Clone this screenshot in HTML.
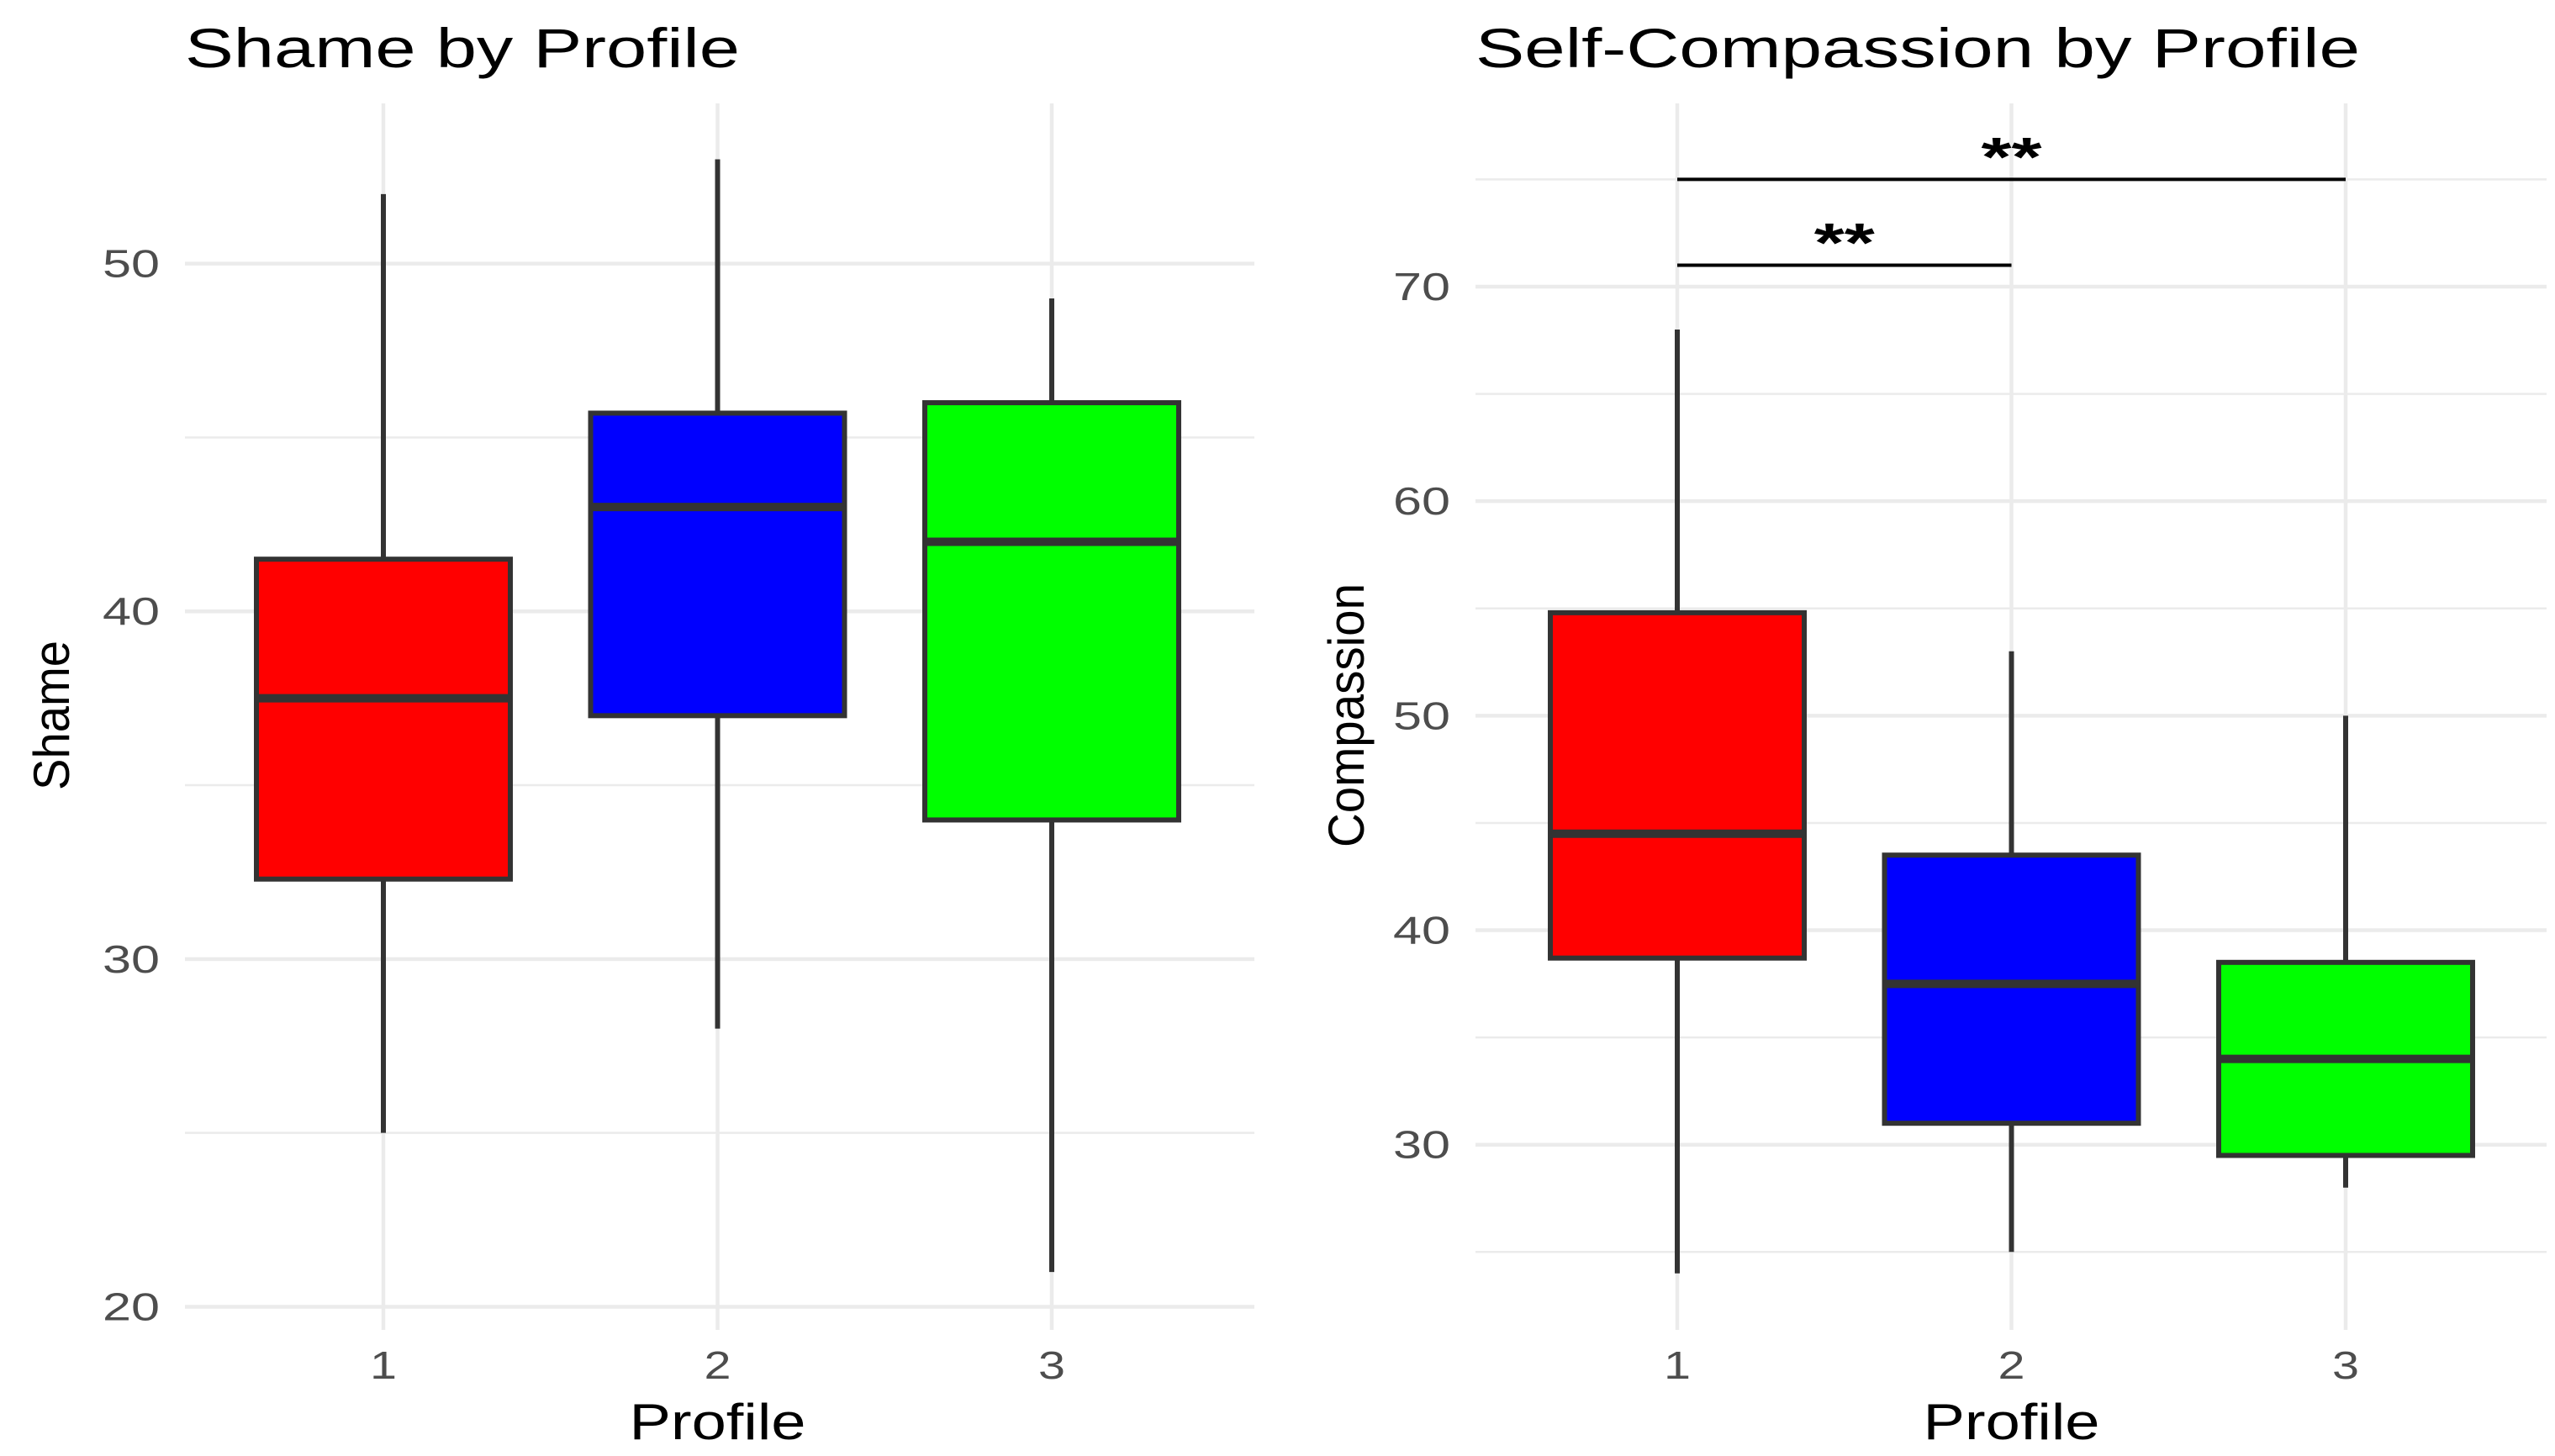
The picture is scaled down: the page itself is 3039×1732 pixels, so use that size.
<!DOCTYPE html>
<html><head><meta charset="utf-8"><style>
html,body{margin:0;padding:0;background:#fff;}
svg{display:block;font-family:"Liberation Sans",Arial,sans-serif;}
</style></head><body>
<svg id="chart" width="3039" height="1732" viewBox="0 0 3039 1732" xmlns="http://www.w3.org/2000/svg">
<g id="left"></g>
<g id="right"></g>
</svg>
<script>
const categories = ["1","2","3"];
const colors = ["#ff0000","#0000ff","#00ff00"];
// Shame: [lowerWhisker, q1, median, q3, upperWhisker]
const shameLow = [25, 28, 21];
const shameQ1 = [32.3, 37, 34];
const shameMed = [37.5, 43, 42];
const shameQ3 = [41.5, 45.7, 46];
const shameHigh = [52, 53, 49];
const shameTicks = [20, 30, 40, 50];
const shameMinor = [25, 35, 45];
// Compassion
const compLow = [24, 25, 28];
const compQ1 = [38.7, 31, 29.5];
const compMed = [44.5, 37.5, 34];
const compQ3 = [54.8, 43.5, 38.5];
const compHigh = [68, 53, 50];
const compTicks = [30, 40, 50, 60, 70];
const compMinor = [25, 35, 45, 55, 65, 75];
const sigFrom = [1, 1];
const sigTo = [2, 3];
const sigY = [71, 75];
const sigLabel = ["**", "**"];

const NS = "http://www.w3.org/2000/svg";
function mk(parent, tag, attrs, text){
  const e = document.createElementNS(NS, tag);
  for (const k in attrs) e.setAttribute(k, attrs[k]);
  if (text !== undefined) e.textContent = text;
  parent.appendChild(e);
  return e;
}

function panel(g, cfg){
  const y = v => cfg.y0 + (v - cfg.v0) * (cfg.y1 - cfg.y0) / (cfg.v1 - cfg.v0);
  const x = i => cfg.xc[0] + i * cfg.xstep;
  cfg.minor.forEach(v=>{
    const l = mk(g,"line",{x1:cfg.left,x2:cfg.right,y1:y(v),y2:y(v),stroke:"#ebebeb","stroke-width":2.5});
    
    
  });
  cfg.ticks.forEach(v=>{
    const l = mk(g,"line",{x1:cfg.left,x2:cfg.right,y1:y(v),y2:y(v),stroke:"#ebebeb","stroke-width":4.5});
    
    
    const t = mk(g,"text",{x:cfg.left-30,y:y(v)+16,"text-anchor":"end","font-size":46,fill:"#4d4d4d",textLength:68,lengthAdjust:"spacingAndGlyphs"}, String(v));
    
    
  });
  categories.forEach((c,i)=>{
    const l = mk(g,"line",{x1:x(i),x2:x(i),y1:123,y2:1582,stroke:"#ebebeb","stroke-width":4.5});
    
    
    const t = mk(g,"text",{x:x(i),y:1640,"text-anchor":"middle","font-size":46,fill:"#4d4d4d",textLength:32,lengthAdjust:"spacingAndGlyphs"}, c);
    
    
  });
  categories.forEach((c,i)=>{
    const hw = 151;
    const w = mk(g,"line",{x1:x(i),x2:x(i),y1:y(cfg.low[i]),y2:y(cfg.high[i]),stroke:"#333","stroke-width":6});
    
    
    const r = mk(g,"rect",{x:x(i)-hw,y:y(cfg.q3[i]),width:2*hw,height:y(cfg.q1[i])-y(cfg.q3[i]),fill:colors[i],stroke:"#333","stroke-width":6});
    
    
    const m = mk(g,"line",{x1:x(i)-hw,x2:x(i)+hw,y1:y(cfg.med[i]),y2:y(cfg.med[i]),stroke:"#333","stroke-width":10});
    
    
  });
  if (cfg.sig){
    sigY.forEach((v,k)=>{
      const xa = x(sigFrom[k]-1), xb = x(sigTo[k]-1);
      const l = mk(g,"line",{x1:xa,x2:xb,y1:y(v),y2:y(v),stroke:"#000","stroke-width":4});
      
      
      const t = mk(g,"text",{x:(xa+xb)/2,y:y(v)-4,"text-anchor":"middle","font-size":66,"font-weight":"bold",fill:"#000",textLength:72,lengthAdjust:"spacingAndGlyphs"}, sigLabel[k]);
      
      
    });
  }
  const tt = mk(g,"text",{x:cfg.left,y:80,"font-size":66,fill:"#000",textLength:cfg.titleLen,lengthAdjust:"spacingAndGlyphs"}, cfg.title);
  
  
  const xt = mk(g,"text",{x:x(1),y:1712,"text-anchor":"middle","font-size":60,fill:"#000",textLength:210,lengthAdjust:"spacingAndGlyphs"}, "Profile");
  
  
  const cy = 851;
  const yt = mk(g,"text",{x:cfg.yTitleX,y:cy,"text-anchor":"middle","font-size":60,fill:"#000",transform:`rotate(-90 ${cfg.yTitleX} ${cy})`,textLength:cfg.yTitleLen,lengthAdjust:"spacingAndGlyphs"}, cfg.ytitle);
  
  
}

panel(document.getElementById('left'), {
  title:"Shame by Profile", titleLen:660, ytitle:"Shame", yTitleX:82, yTitleLen:178,
  left:220, right:1492, xc:[456], xstep:397.5,
  v0:50, y0:313.6, v1:20, y1:1554.5,
  ticks:shameTicks, minor:shameMinor,
  low:shameLow, q1:shameQ1, med:shameMed, q3:shameQ3, high:shameHigh, sig:false
});
panel(document.getElementById('right'), {
  title:"Self-Compassion by Profile", titleLen:1052, ytitle:"Compassion", yTitleX:1622, yTitleLen:314,
  left:1755, right:3029, xc:[1995], xstep:397.5,
  v0:70, y0:341, v1:30, y1:1361.7,
  ticks:compTicks, minor:compMinor,
  low:compLow, q1:compQ1, med:compMed, q3:compQ3, high:compHigh, sig:true
});
</script>
</body></html>
